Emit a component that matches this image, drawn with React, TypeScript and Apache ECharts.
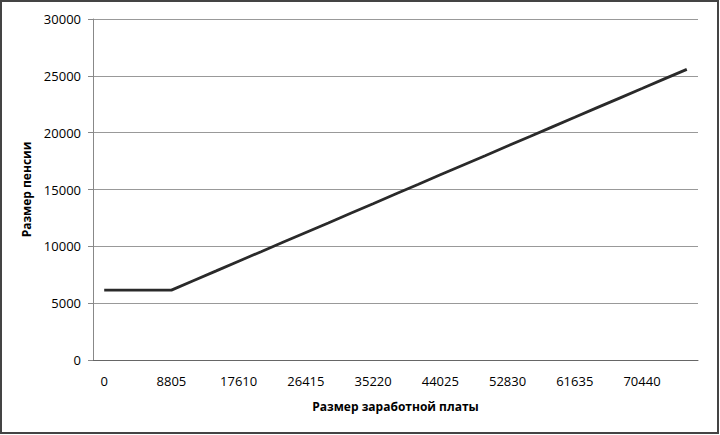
import React, { useEffect, useRef } from "react";
import * as echarts from "echarts";

const salaryCategories: string[] = [
  "0", "2935", "5870", "8805", "11740", "14675", "17610", "20545", "23480",
  "26415", "29350", "32285", "35220", "38155", "41090", "44025", "46960",
  "49895", "52830", "55765", "58700", "61635", "64570", "67505", "70440",
  "73375", "76310",
];

const pensionValues: number[] = [
  6150, 6150, 6150, 6150, 7000, 7840, 8690, 9530, 10380, 11220, 12060, 12910,
  13750, 14600, 15440, 16290, 17130, 17970, 18820, 19660, 20510, 21350, 22200,
  23040, 23880, 24730, 25570,
];

const xTitle = "Размер заработной платы";
const yTitle = "Размер пенсии";

const FONT = "'Open Sans', 'DejaVu Sans', sans-serif";

export default function App() {
  const ref = useRef<HTMLDivElement>(null);
  useEffect(() => {
    if (!ref.current) return;
    const chart = echarts.init(ref.current, undefined, { renderer: "svg" });
    chart.setOption({
      animation: false,
      backgroundColor: "#ffffff",
      grid: { left: 93, right: 22, top: 19, bottom: 75, containLabel: false },
      xAxis: {
        type: "category",
        data: salaryCategories,
        boundaryGap: true,
        name: xTitle,
        nameLocation: "middle",
        nameGap: 40,
        nameTextStyle: { fontFamily: FONT, fontWeight: "bold", fontSize: 12, color: "#000" },
        axisLine: { show: true, lineStyle: { color: "#666", width: 1 } },
        axisTick: { show: false },
        axisLabel: {
          interval: 2,
          margin: 14,
          fontFamily: FONT,
          fontSize: 13,
          color: "#000",
        },
        splitLine: { show: false },
      },
      yAxis: {
        type: "value",
        min: 0,
        max: 30000,
        interval: 5000,
        name: yTitle,
        nameLocation: "middle",
        nameGap: 58,
        nameRotate: 90,
        nameTextStyle: { fontFamily: FONT, fontWeight: "bold", fontSize: 12, color: "#000" },
        axisLine: { show: true, lineStyle: { color: "#888", width: 1 } },
        axisTick: { show: true, length: 5, lineStyle: { color: "#888" } },
        axisLabel: {
          margin: 12,
          fontFamily: FONT,
          fontSize: 13,
          color: "#000",
          formatter: (v: number) => String(v),
        },
        splitLine: { show: true, lineStyle: { color: "#999", width: 1 } },
      },
      series: [
        {
          type: "line",
          data: pensionValues,
          symbol: "none",
          lineStyle: { color: "#2a2a2a", width: 2.8 },
        },
      ],
      graphic: [
        {
          type: "rect",
          shape: { x: 1, y: 1, width: 717, height: 432 },
          style: { fill: "none", stroke: "#444", lineWidth: 2 },
          silent: true,
        },
      ],
    });
    return () => chart.dispose();
  }, []);
  return (
    <div
      ref={ref}
      style={{ position: "fixed", left: 0, top: 0, width: 720, height: 435 }}
    />
  );
}
